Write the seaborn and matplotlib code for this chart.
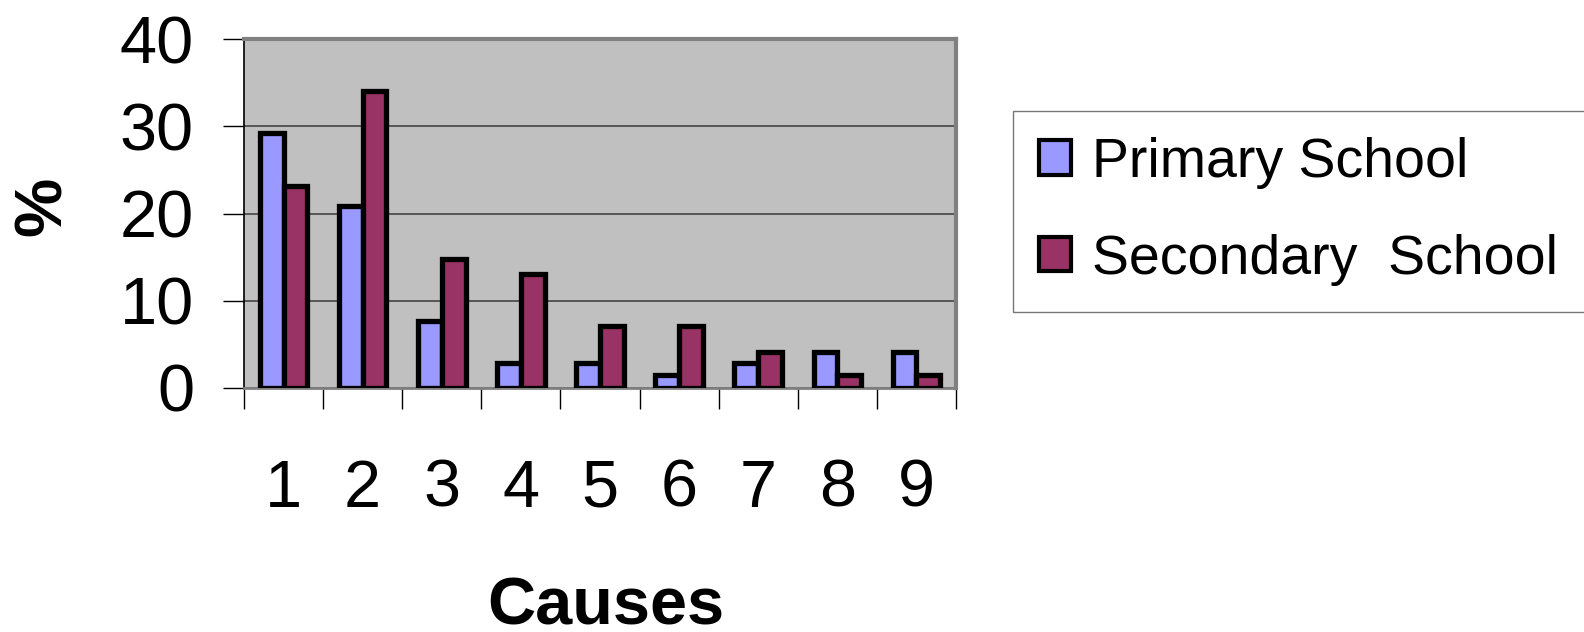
import matplotlib
matplotlib.use("Agg")
import matplotlib.pyplot as plt
import seaborn as sns
import pandas as pd
import numpy as np

causes = ["1", "2", "3", "4", "5", "6", "7", "8", "9"]
primary = [29.2, 20.9, 7.7, 2.9, 2.9, 1.5, 2.9, 4.1, 4.1]
secondary = [23.2, 34.0, 14.8, 13.1, 7.1, 7.1, 4.1, 1.5, 1.5]
series_names = ["Primary School", "Secondary  School"]
y_ticks = [0, 10, 20, 30, 40]

df = pd.DataFrame({
    "Cause": causes * 2,
    "Value": primary + secondary,
    "School": [series_names[0]] * len(causes) + [series_names[1]] * len(causes),
})

sns.set_theme(style="white")
plt.rcParams["font.family"] = ["Liberation Sans", "DejaVu Sans"]
plt.rcParams["text.color"] = "black"
plt.rcParams["axes.labelcolor"] = "black"
plt.rcParams["xtick.color"] = "black"
plt.rcParams["ytick.color"] = "black"

fig = plt.figure(figsize=(15.84, 6.32), dpi=100)
W, H = 1584, 632
L, R, T, B = 244, 956, 39, 388
ax = fig.add_axes([L / W, 1 - B / H, (R - L) / W, (B - T) / H])
ax.set_facecolor("#C0C0C0")

sns.barplot(data=df, x="Cause", y="Value", hue="School", order=causes,
            palette=["#9999FF", "#993366"], saturation=1,
            edgecolor="black", linewidth=3.8,
            width=0.6, gap=0, ax=ax, zorder=3)

ax.set_xlim(-0.5, len(causes) - 0.5)
ax.set_ylim(0, 40)
ax.set_yticks(y_ticks)
ax.set_yticklabels([str(t) for t in y_ticks])
ax.yaxis.grid(True, color="#3a3a3a", linewidth=1.1, zorder=1)
ax.set_axisbelow(True)

ax.tick_params(axis="y", which="major", length=15, width=1, color="black",
               labelsize=48, pad=21, left=True, direction="out",
               labelcolor="black")
ax.tick_params(axis="x", which="major", length=0, labelsize=48, pad=51,
               labelcolor="black")
ax.set_xticks(np.arange(-0.5, len(causes)), minor=True)
ax.tick_params(axis="x", which="minor", length=15, width=1, color="black",
               bottom=True, direction="out")

for s in ["top", "right"]:
    ax.spines[s].set_color("#808080")
    ax.spines[s].set_linewidth(3)
ax.spines["left"].set_color("black")
ax.spines["left"].set_linewidth(1.2)
ax.spines["bottom"].set_color("#808080")
ax.spines["bottom"].set_linewidth(2)

ax.set_xlabel("Causes", fontsize=48, fontweight="bold", color="black")
ax.xaxis.set_label_coords((606 - L) / (R - L), -0.540)
ax.set_ylabel("%", fontsize=48, fontweight="bold", color="black")
ax.yaxis.set_label_coords((75 - L) / (R - L), (B - 206) / (B - T))

leg = ax.legend(loc="upper left",
                bbox_to_anchor=(1013 / W, 1 - 309 / H, (1600 - 1013) / W, 198 / H),
                bbox_transform=fig.transFigure, borderaxespad=0, mode="expand",
                fontsize=40, frameon=True, fancybox=False,
                handlelength=0.58, handleheight=0.58, handletextpad=0.38,
                labelspacing=0.8, borderpad=0.47, title=None)
leg.get_frame().set_edgecolor("#555555")
leg.get_frame().set_linewidth(1)
for t in leg.get_texts():
    t.set_color("black")
for h in leg.legend_handles:
    h.set_edgecolor("black")
    h.set_linewidth(3)

fig.savefig("out.png", dpi=100)
